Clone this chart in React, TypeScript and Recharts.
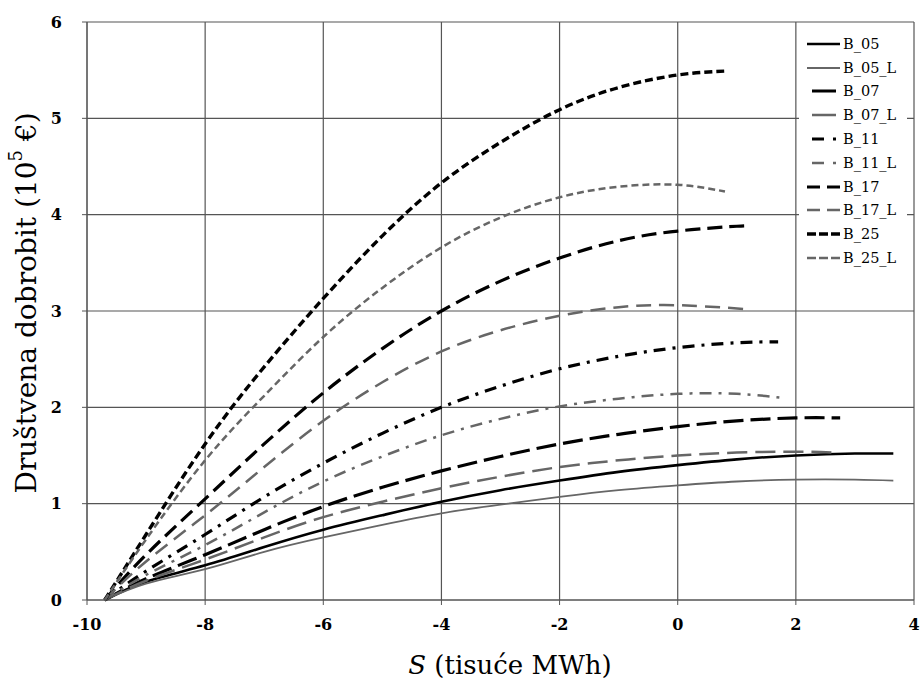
import React from "react";
import {
  LineChart,
  Line,
  XAxis,
  YAxis,
  CartesianGrid,
  Legend,
} from "recharts";

// S values (tisuće MWh) and welfare (10^5 €) for each scenario
const S_B05 = [-9.7, -9, -8, -7, -6, -5, -4, -3, -2, -1, 0, 1, 2, 3, 3.65];
const W_B05 = [0, 0.19, 0.36, 0.55, 0.73, 0.88, 1.02, 1.14, 1.24, 1.33, 1.4, 1.46, 1.5, 1.52, 1.52];

const S_B05_L = [-9.7, -9, -8, -7, -6, -5, -4, -3, -2, -1, 0, 1, 2, 3, 3.65];
const W_B05_L = [0, 0.17, 0.32, 0.5, 0.65, 0.78, 0.9, 0.99, 1.07, 1.14, 1.19, 1.23, 1.25, 1.25, 1.24];

const S_B07 = [-9.7, -9, -8, -7, -6, -5, -4, -3, -2, -1, 0, 1, 2, 2.75];
const W_B07 = [0, 0.22, 0.47, 0.73, 0.97, 1.17, 1.34, 1.49, 1.62, 1.72, 1.8, 1.86, 1.89, 1.89];

const S_B07_L = [-9.7, -9, -8, -7, -6, -5, -4, -3, -2, -1, 0, 1, 2, 2.65];
const W_B07_L = [0, 0.2, 0.42, 0.65, 0.86, 1.02, 1.16, 1.28, 1.38, 1.45, 1.5, 1.53, 1.54, 1.53];

const S_B11 = [-9.7, -9, -8, -7, -6, -5, -4, -3, -2, -1, 0, 1, 1.7];
const W_B11 = [0, 0.3, 0.68, 1.07, 1.42, 1.73, 2.0, 2.22, 2.4, 2.53, 2.62, 2.67, 2.68];

const S_B11_L = [-9.7, -9, -8, -7, -6, -5, -4, -3, -2, -1, 0, 1, 1.75];
const W_B11_L = [0, 0.26, 0.57, 0.91, 1.23, 1.49, 1.71, 1.88, 2.01, 2.09, 2.14, 2.14, 2.1];

const S_B17 = [-9.7, -9, -8, -7, -6, -5, -4, -3, -2, -1, 0, 1, 1.2];
const W_B17 = [0, 0.47, 1.05, 1.62, 2.15, 2.61, 3.0, 3.31, 3.55, 3.73, 3.83, 3.88, 3.88];

const S_B17_L = [-9.7, -9, -8, -7, -6, -5, -4, -3, -2, -1, 0, 1.15];
const W_B17_L = [0, 0.4, 0.88, 1.38, 1.86, 2.26, 2.58, 2.8, 2.95, 3.04, 3.06, 3.02];

const S_B25 = [-9.7, -9, -8, -7, -6, -5, -4, -3, -2, -1, 0, 0.8];
const W_B25 = [0, 0.68, 1.62, 2.42, 3.13, 3.78, 4.33, 4.75, 5.09, 5.32, 5.45, 5.49];

const S_B25_L = [-9.7, -9, -8, -7, -6, -5, -4, -3, -2, -1, 0, 0.8];
const W_B25_L = [0, 0.63, 1.45, 2.12, 2.73, 3.24, 3.66, 3.97, 4.18, 4.29, 4.31, 4.24];

const X_TICKS = [-10, -8, -6, -4, -2, 0, 2, 4];
const Y_TICKS = [0, 1, 2, 3, 4, 5, 6];

const BLACK = "#000";
const GRAY = "#666";

const toPoints = (s: number[], w: number[]) => s.map((x, i) => ({ s: x, w: w[i] }));

const SERIES = [
  { name: "B_05", data: toPoints(S_B05, W_B05), color: BLACK, width: 2.6, dash: undefined, legendDash: undefined },
  { name: "B_05_L", data: toPoints(S_B05_L, W_B05_L), color: GRAY, width: 1.8, dash: undefined, legendDash: undefined },
  { name: "B_07", data: toPoints(S_B07, W_B07), color: BLACK, width: 3.2, dash: "20 7", legendDash: "0 5 24 20" },
  { name: "B_07_L", data: toPoints(S_B07_L, W_B07_L), color: GRAY, width: 2.5, dash: "20 8", legendDash: "0 5 24 20" },
  { name: "B_11", data: toPoints(S_B11, W_B11), color: BLACK, width: 3.2, dash: "12 7 3 7", legendDash: "0 5 12 9 3 20" },
  { name: "B_11_L", data: toPoints(S_B11_L, W_B11_L), color: GRAY, width: 2.5, dash: "12 7 3 7", legendDash: "0 5 12 9 3 20" },
  { name: "B_17", data: toPoints(S_B17, W_B17), color: BLACK, width: 3.2, dash: "15 7", legendDash: "13 7 13 20" },
  { name: "B_17_L", data: toPoints(S_B17_L, W_B17_L), color: GRAY, width: 2.5, dash: "15 8", legendDash: "13 7 13 20" },
  { name: "B_25", data: toPoints(S_B25, W_B25), color: BLACK, width: 3.4, dash: "8 4", legendDash: "9 3 9 3 9 20" },
  { name: "B_25_L", data: toPoints(S_B25_L, W_B25_L), color: GRAY, width: 2.5, dash: "7 4", legendDash: "9 3 9 3 9 20" },
];

const SERIF = "'DejaVu Serif', 'Liberation Serif', serif";

function YTitle() {
  return (
    <text
      x={26}
      y={303}
      transform="rotate(-90, 26, 303)"
      textAnchor="middle"
      dominantBaseline="central"
      fontFamily={SERIF}
      fontSize={28}
      fill="#000"
    >
      Društvena dobrobit (10
      <tspan dy={-11} fontSize={18}>5</tspan>
      <tspan dy={11}> €)</tspan>
    </text>
  );
}

function XTitle() {
  return (
    <text x={510} y={674} textAnchor="middle" fontFamily={SERIF} fontSize={26} fill="#000">
      <tspan fontStyle="italic">S</tspan> (tisuće MWh)
    </text>
  );
}

function LegendBox() {
  return (
    <div
      style={{
        background: "#fff",
        width: 108,
        height: 245,
        paddingTop: 9,
        boxSizing: "border-box",
        fontFamily: SERIF,
        fontSize: 14.5,
        color: "#000",
      }}
    >
      {SERIES.map((s) => (
        <div key={s.name} style={{ display: "flex", alignItems: "center", height: 23.8 }}>
          <svg width={44} height={12} style={{ flex: "none" }}>
            <line
              x1={8}
              y1={6}
              x2={41}
              y2={6}
              stroke={s.color}
              strokeWidth={s.width}
              strokeDasharray={s.legendDash}
            />
          </svg>
          <span>{s.name}</span>
        </div>
      ))}
    </div>
  );
}

export default function App() {
  return (
    <div
      style={{
        position: "absolute",
        left: 0,
        top: 0,
        width: 920,
        height: 682,
        background: "#fff",
      }}
    >
      <LineChart width={920} height={682} margin={{ top: 22, right: 6, bottom: 0, left: 0 }}>
        <CartesianGrid stroke="#555" strokeWidth={1.2} />
        <XAxis
          dataKey="s"
          type="number"
          domain={[-10, 4]}
          ticks={X_TICKS}
          height={82}
          tickSize={5}
          tickMargin={14}
          stroke="#555"
          tick={{ fill: "#000", fontFamily: SERIF, fontSize: 16, fontWeight: "bold" }}
          label={<XTitle />}
          allowDataOverflow
        />
        <YAxis
          type="number"
          domain={[0, 6]}
          ticks={Y_TICKS}
          width={87}
          tickSize={5}
          tickMargin={20}
          stroke="#555"
          tick={{ fill: "#000", fontFamily: SERIF, fontSize: 16, fontWeight: "bold" }}
          label={<YTitle />}
        />
        <Legend
          layout="vertical"
          align="center"
          verticalAlign="middle"
          wrapperStyle={{ left: 799, top: 23, width: 108, height: 245 }}
          content={() => <LegendBox />}
        />
        {SERIES.map((s) => (
          <Line
            key={s.name}
            data={s.data}
            dataKey="w"
            name={s.name}
            type="natural"
            stroke={s.color}
            strokeWidth={s.width}
            strokeDasharray={s.dash}
            dot={false}
            activeDot={false}
            isAnimationActive={false}
          />
        ))}
      </LineChart>
    </div>
  );
}
